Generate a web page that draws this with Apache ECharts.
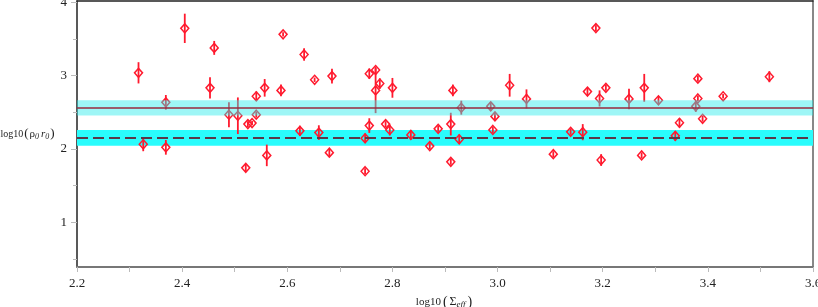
<!DOCTYPE html>
<html>
<head>
<meta charset="utf-8">
<script src="https://cdn.jsdelivr.net/npm/echarts@6/dist/echarts.min.js"></script>
<style>html,body{margin:0;padding:0;background:#fff}#c{width:818px;height:307px}</style>
</head>
<body>
<div id="c"></div>
<script>
// data: log10(Sigma_eff), log10(rho0 r0), error
var xs   = [2.317,2.405,2.369,2.326,2.369,2.461,2.453,2.592,2.632,2.652,2.557,2.588,2.541,2.489,2.506,2.541,2.525,2.533,2.624,2.660,2.561,2.521,
            2.685,2.756,2.768,2.768,2.776,2.800,2.756,2.787,2.795,2.748,2.835,2.887,2.871,2.680,2.748,
            2.915,2.911,2.927,2.911,2.931,2.987,2.995,2.991,3.023,3.055,3.106,3.139,3.162,3.187,3.171,3.206,3.194,3.250,3.279,3.306,3.197,3.274,3.346,3.338,
            3.381,3.381,3.377,3.390,3.429,3.517];
var ys   = [3.04,3.647,2.637,2.065,2.023,3.38,2.835,3.565,3.29,2.945,2.835,2.80,2.72,2.468,2.454,2.468,2.34,2.354,2.248,2.224,1.913,1.743,
            2.995,3.028,3.078,2.80,2.894,2.835,2.32,2.34,2.26,2.147,2.193,2.275,2.04,1.95,1.697,
            2.80,2.34,2.133,1.825,2.564,2.582,2.445,2.26,2.87,2.684,1.93,2.234,2.23,3.65,2.784,2.835,2.69,2.684,2.835,2.665,1.85,1.913,2.358,2.18,
            2.96,2.69,2.582,2.413,2.72,2.987];
var errs = [0.145,0.2,0.1,0.095,0.1,0.095,0.145,0.03,0.085,0.03,0.12,0.08,0.065,0.17,0.25,0.04,0.04,0.03,0.07,0.1,0.147,0.05,
            0.1,0.07,0.04,0.31,0.07,0.135,0.1,0.04,0.075,0.065,0.065,0.04,0.04,0.05,0.04,
            0.08,0.155,0.065,0.04,0.095,0.06,0.055,0.04,0.155,0.13,0.04,0.04,0.11,0.04,0.05,0.04,0.11,0.14,0.19,0.05,0.08,0.04,0.06,0.065,
            0.04,0.04,0.075,0.04,0.03,0.075];
var xTicks = [2.2,2.4,2.6,2.8,3.0,3.2,3.4,3.6];
var yTicks = [1,2,3,4];
var yMinorTicks = [0.5,1.5,2.5,3.5];
var bandUpper = [2.458,2.665];
var lineUpper = 2.56;
var bandLower = [2.045,2.26];
var lineLower = 2.155;

var pts = xs.map(function(x,i){return [x, ys[i], errs[i]];});
var font = 'Liberation Serif';
var chart = echarts.init(document.getElementById('c'));
chart.setOption({
  animation:false,
  grid:{left:77,right:5,top:1,bottom:40,containLabel:false,outerBoundsMode:'none'},
  xAxis:[{
    type:'value',min:2.2,max:3.6,interval:0.2,position:'bottom',
    axisLine:{lineStyle:{color:'#777',width:2}},
    axisTick:{show:true,length:5,lineStyle:{color:'#bbb'}},
    minorTick:{show:true,splitNumber:2,length:5,lineStyle:{color:'#bbb'}},
    splitLine:{show:false},
    axisLabel:{margin:10,fontFamily:font,fontSize:13,color:'#222',formatter:function(v){return v.toFixed(1);}},
    name:'{a|log10}{p|(}{g|Σ}{s|eff}{p|)}',nameLocation:'middle',nameGap:19,
    nameTextStyle:{fontFamily:font,color:'#222',rich:{
      a:{fontFamily:font,fontSize:11,color:'#222'},
      p:{fontFamily:font,fontSize:14,color:'#222',padding:[0,2,0,2]},
      g:{fontFamily:font,fontSize:12,color:'#222'},
      s:{fontFamily:font,fontSize:9,fontStyle:'italic',color:'#222',padding:[6,0,0,0]}
    }}
  },{
    type:'value',min:2.2,max:3.6,position:'top',
    axisLine:{lineStyle:{color:'#222',width:1.5}},
    axisTick:{show:false},axisLabel:{show:false},splitLine:{show:false}
  }],
  yAxis:[{
    type:'value',min:0.39,max:4.02,position:'left',
    axisLine:{lineStyle:{color:'#222',width:1.5}},
    axisTick:{show:true,length:6,customValues:yTicks,lineStyle:{color:'#bbb'}},
    splitLine:{show:false},
    axisLabel:{customValues:yTicks,margin:10,fontFamily:font,fontSize:13,color:'#222'},
    name:'{a|log10}{p|(}{g|ρ}{s|0}{i|r}{s|0}{p|)}',nameLocation:'middle',nameRotate:0,nameGap:21,
    nameTextStyle:{fontFamily:font,color:'#222',align:'right',rich:{
      a:{fontFamily:font,fontSize:10,color:'#222'},
      p:{fontFamily:font,fontSize:13,color:'#222',padding:[0,1,0,1]},
      g:{fontFamily:font,fontSize:11,color:'#222'},
      i:{fontFamily:font,fontSize:11,fontStyle:'italic',color:'#222',padding:[0,0,0,2]},
      s:{fontFamily:font,fontSize:8,fontStyle:'italic',color:'#222',padding:[6,0,0,0]}
    }}
  },{
    type:'value',min:0.39,max:4.02,position:'left',offset:0,
    axisLine:{show:false},
    axisTick:{show:true,length:4,customValues:yMinorTicks,lineStyle:{color:'#bbb'}},
    axisLabel:{show:false},splitLine:{show:false}
  },{
    type:'value',min:0.39,max:4.02,position:'right',
    axisLine:{show:true,lineStyle:{color:'#888',width:2}},
    axisTick:{show:false},axisLabel:{show:false},splitLine:{show:false}
  }],
  series:[{
    type:'line',data:[],z:1,silent:true,
    markArea:{silent:true,z:1,itemStyle:{color:'#2afcfc'},data:[[{yAxis:bandLower[0]},{yAxis:bandLower[1]}]]}
  },{
    type:'custom',z:3,data:pts,silent:true,
    renderItem:function(params,api){
      var x=api.value(0),y=api.value(1),e=api.value(2);
      var a=api.coord([x,y+e]),b=api.coord([x,y-e]);
      return {type:'line',shape:{x1:a[0],y1:a[1],x2:b[0],y2:b[1]},style:{stroke:'#ff1a2e',lineWidth:1.8}};
    }
  },{
    type:'scatter',z:3,data:pts,symbol:'diamond',symbolSize:[8,9],silent:true,
    itemStyle:{color:'rgba(0,0,0,0)',borderColor:'#ff1a2e',borderWidth:1.5,opacity:1}
  },{
    type:'line',data:[],z:5,silent:true,
    markArea:{silent:true,z:10,itemStyle:{color:'rgba(40,235,235,0.45)'},data:[[{yAxis:bandUpper[0]},{yAxis:bandUpper[1]}]]},
    markLine:{silent:true,z:12,symbol:'none',label:{show:false},data:[
      {yAxis:lineUpper,lineStyle:{color:'#9a2a3c',width:1.5,type:'solid'}},
      {yAxis:lineLower,lineStyle:{color:'#5a3848',width:2.2,type:[11,5]}}
    ]}
  }]
});
</script>
</body>
</html>
